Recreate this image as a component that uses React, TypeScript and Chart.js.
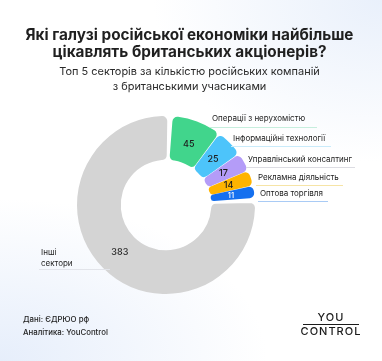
import React, { useEffect, useRef } from "react";
import { Chart, registerables } from "chart.js";

Chart.register(...registerables);

const categories = [
  "Операції з нерухомістю",
  "Інформаційні технології",
  "Управлінський консалтинг",
  "Рекламна діяльність",
  "Оптова торгівля",
  "Інші сектори",
];
const values = [45, 25, 17, 14, 11, 383];
const colors = ["#41D58C", "#4DC4FA", "#B49CF8", "#FFB400", "#1570EF", "#D4D4D4"];
const lineColors = ["#C6EEDD", "#C9EBFA", "#DCDCE2", "#F6E4A6", "#A9CBF5", "#E2E4EA"];
const valueTextColors = ["#1E1E1E", "#1E1E1E", "#1E1E1E", "#1E1E1E", "#FFFFFF", "#1E1E1E"];

const titleLines = ["Які галузі російської економіки найбільше", "цікавлять британських акціонерів?"];
const subtitleLines = ["Топ 5 секторів за кількістю російських компаній", "з британськими учасниками"];
const footerLines = ["Дані: ЄДРЮО рф", "Аналітика: YouControl"];

const FONT = "Inter, 'Noto Sans', sans-serif";

// label layout: [textX, textY, lineX1, lineX2, lineY]
const labelLayout = [
  [212, 119, 210, 317, 127],
  [233, 139, 231, 331, 146],
  [248, 160, 246, 355, 167],
  [258, 178, 256, 343, 185],
  [260, 194, 258, 328, 201],
];

// font size that makes `text` span `width` pixels
function fitSize(ctx: CanvasRenderingContext2D, text: string, width: number, weight: string) {
  ctx.font = `${weight} 20px ${FONT}`;
  const w = ctx.measureText(text).width;
  return (20 * width) / w;
}

const textPlugin = {
  id: "texts",
  afterDatasetsDraw(chart: any) {
    const ctx = chart.ctx as CanvasRenderingContext2D;
    ctx.save();
    // title
    const ts = fitSize(ctx, titleLines[0], 328, "bold");
    ctx.fillStyle = "#1F1F1F";
    ctx.textAlign = "center";
    ctx.textBaseline = "middle";
    ctx.font = `bold ${ts}px ${FONT}`;
    ctx.fillText(titleLines[0], 189.5, 35);
    ctx.fillText(titleLines[1], 189.5, 52);
    const ss = fitSize(ctx, subtitleLines[0], 261, "normal");
    ctx.fillStyle = "#2A2A2A";
    ctx.font = `normal ${ss}px ${FONT}`;
    ctx.fillText(subtitleLines[0], 189.5, 72);
    ctx.fillText(subtitleLines[1], 189.5, 87);

    // values inside arcs
    const ns = fitSize(ctx, "383", 17, "500");
    const meta = chart.getDatasetMeta(0);
    meta.data.forEach((arc: any, i: number) => {
      const mid = (arc.startAngle + arc.endAngle) / 2;
      const r = (arc.innerRadius + arc.outerRadius) / 2;
      const x = arc.x + Math.cos(mid) * r;
      const y = arc.y + Math.sin(mid) * r;
      ctx.fillStyle = valueTextColors[i];
      ctx.font = `500 ${i === 4 ? ns * 0.85 : ns}px ${FONT}`;
      ctx.textAlign = "center";
      ctx.textBaseline = "middle";
      ctx.fillText(String(values[i]), x, y + 0.5);
    });

    // category labels
    const ls = fitSize(ctx, categories[2], 104, "normal");
    ctx.textAlign = "left";
    ctx.textBaseline = "middle";
    ctx.font = `normal ${ls}px ${FONT}`;
    labelLayout.forEach((l, i) => {
      ctx.strokeStyle = lineColors[i];
      ctx.lineWidth = 1;
      ctx.beginPath();
      ctx.moveTo(l[2], l[4] + 0.5);
      ctx.lineTo(l[3], l[4] + 0.5);
      ctx.stroke();
      ctx.fillStyle = "#222222";
      ctx.fillText(categories[i], l[0], l[1]);
    });
    // others
    const otherParts = categories[5].split(" ");
    ctx.fillStyle = "#222222";
    ctx.fillText(otherParts[0], 41, 253);
    ctx.fillText(otherParts[1], 41, 263.5);
    ctx.strokeStyle = lineColors[5];
    ctx.beginPath();
    ctx.moveTo(39, 269.5);
    ctx.lineTo(110, 269.5);
    ctx.stroke();

    // footer
    const fs = fitSize(ctx, footerLines[1], 85, "500");
    ctx.fillStyle = "#222222";
    ctx.font = `500 ${fs}px ${FONT}`;
    ctx.fillText(footerLines[0], 23, 320);
    ctx.fillText(footerLines[1], 23, 333);

    // logo
    ctx.fillStyle = "#1A1A1A";
    ctx.textAlign = "center";
    ctx.font = `500 11px ${FONT}`;
    (ctx as any).letterSpacing = "1px";
    ctx.fillText("YOU", 331, 318);
    ctx.fillText("CONTROL", 331, 332);
    ctx.strokeStyle = "#1A1A1A";
    ctx.lineWidth = 1;
    ctx.beginPath();
    ctx.moveTo(303, 324.5);
    ctx.lineTo(359, 324.5);
    ctx.stroke();
    ctx.restore();
  },
};

export default function App() {
  const ref = useRef<HTMLCanvasElement>(null);
  useEffect(() => {
    if (!ref.current) return;
    const chart = new Chart(ref.current, {
      type: "doughnut",
      data: {
        labels: categories,
        datasets: [
          {
            data: values,
            backgroundColor: colors,
            borderWidth: 0,
            borderRadius: 5,
            spacing: 3,
            hoverOffset: 0,
          },
        ],
      },
      options: {
        responsive: false,
        animation: false,
        rotation: 4,
        cutout: "50%",
        layout: { padding: { left: 77, right: 127, top: 116, bottom: 67 } },
        plugins: {
          legend: { display: false },
          tooltip: { enabled: false },
        },
      },
      plugins: [textPlugin],
    });
    return () => chart.destroy();
  }, []);
  return (
    <div
      style={{
        position: "fixed",
        left: 0,
        top: 0,
        width: 382,
        height: 361,
        background:
          "radial-gradient(ellipse 60% 45% at 100% 0%, #E9F0FB 0%, rgba(255,255,255,0) 100%), radial-gradient(ellipse 70% 45% at 0% 100%, #E6EEFB 0%, rgba(255,255,255,0) 100%), #FFFFFF",
      }}
    >
      <canvas ref={ref} width={382} height={361} style={{ display: "block" }} />
    </div>
  );
}
